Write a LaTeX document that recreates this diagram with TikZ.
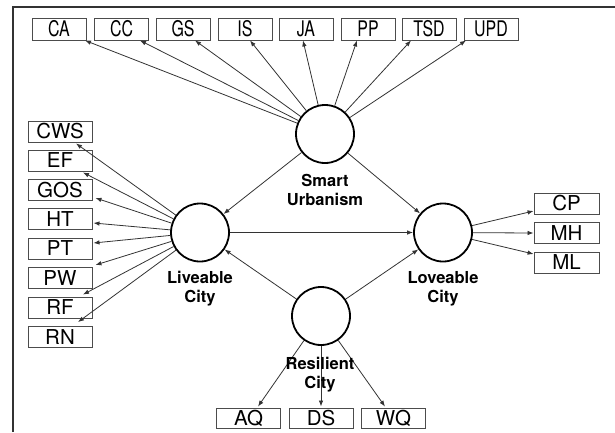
\documentclass[tikz,border=0pt]{standalone}
\usepackage{fontspec}
\setmainfont{TeX Gyre Heros}
\usetikzlibrary{arrows.meta}
\begin{document}
\begin{tikzpicture}[x=1pt,y=-1pt,
  ind/.style={draw=black!70,line width=0.9pt,minimum height=21pt,minimum width=64pt,inner sep=0pt,font=\fontsize{20.5}{20.5}\selectfont},
  topind/.style={ind,minimum height=22pt,minimum width=54pt,font=\fontsize{21.5}{21.5}\selectfont},
  lat/.style={circle,draw=black,line width=1.8pt,minimum size=58pt,inner sep=0pt},
  lbl/.style={font=\bfseries\fontsize{16.5}{19}\selectfont,align=center,inner sep=0pt},
  arr/.style={draw=black!80,line width=0.8pt,-{Latex[length=6pt,width=4.5pt]}},
  frameline/.style={draw=black!80,line width=1.3pt}]
\useasboundingbox (0,0) rectangle (615,432);
% frame
\coordinate (f1) at (13,432);
\coordinate (f2) at (13,7);
\coordinate (f3) at (615,7);
\draw[frameline] (f1) -- (f2) -- (f3);
% top indicators
\foreach \n/\x in {CA/59,CC/121.5,GS/183,IS/245,JA/306,PP/368,TSD/429,UPD/491}
  \node[topind] (\n) at (\x,29) {\scalebox{0.74}[1]{\n}};
% left indicators
\foreach \n/\y in {CWS/131.5,EF/160.5,GOS/190,HT/219,PT/248.5,PW/278,RF/307.5,RN/337}
  \node[ind] (\n) at (60,\y) {\n};
% right indicators
\foreach \n/\y in {CP/203.5,MH/233,ML/262.5}
  \node[ind,minimum width=65pt] (\n) at (566.5,\y) {\n};
% bottom indicators
\foreach \n/\x in {AQ/248.5,DS/321,WQ/393.5}
  \node[ind,minimum height=20pt] (\n) at (\x,418) {\n};
% latent variables
\node[lat] (SU) at (325,134) {};
\node[lat] (LC) at (200,232.5) {};
\node[lat] (LoC) at (443,232.5) {};
\node[lat] (RC) at (321,316) {};
% top arrows
\foreach \n/\dx in {CA/26,CC/18.5,GS/12,IS/5,JA/-3,PP/-11,TSD/-18,UPD/-25}
  \draw[arr] (SU) -- ([xshift=\dx pt]\n.south);
% left arrows
\draw[arr] (LC) -- ([xshift=16pt,yshift=-1pt]CWS.south);
\draw[arr] (LC) -- ([xshift=23pt,yshift=-1pt]EF.south);
\draw[arr] (LC) -- ([xshift=3pt,yshift=-8pt]GOS.east);
\draw[arr] (LC) -- ([xshift=1pt,yshift=-4pt]HT.east);
\draw[arr] (LC) -- ([xshift=1pt,yshift=5.5pt]PT.east);
\draw[arr] (LC) -- ([xshift=3pt,yshift=13pt]PW.east);
\draw[arr] (LC) -- ([xshift=23pt,yshift=2pt]RF.north);
\draw[arr] (LC) -- ([xshift=18pt,yshift=4pt]RN.north);
% right arrows
\draw[arr] (LoC) -- ([yshift=-7.5pt]CP.west);
\draw[arr] (LoC) -- (MH.west);
\draw[arr] (LoC) -- ([yshift=8.5pt]ML.west);
% bottom arrows
\draw[arr] (RC) -- ([xshift=9.5pt,yshift=1pt]AQ.north);
\draw[arr] (RC) -- ([yshift=1pt]DS.north);
\draw[arr] (RC) -- ([xshift=-8.5pt,yshift=1pt]WQ.north);
% structural arrows
\draw[arr] (SU) -- (LC);
\draw[arr] (SU) -- (LoC);
\draw[arr] (LC) -- (LoC);
\draw[arr] (RC) -- (LC);
\draw[arr] (RC) -- (LoC);
% labels
\node[lbl] (lSU) at (325,189.5) {Smart\\Urbanism};
\node[lbl] (lLC) at (200,288.5) {Liveable\\City};
\node[lbl] (lLoC) at (443,288.5) {Loveable\\City};
\node[lbl] (lRC) at (320,374.5) {Resilient\\City};
\end{tikzpicture}
\end{document}
